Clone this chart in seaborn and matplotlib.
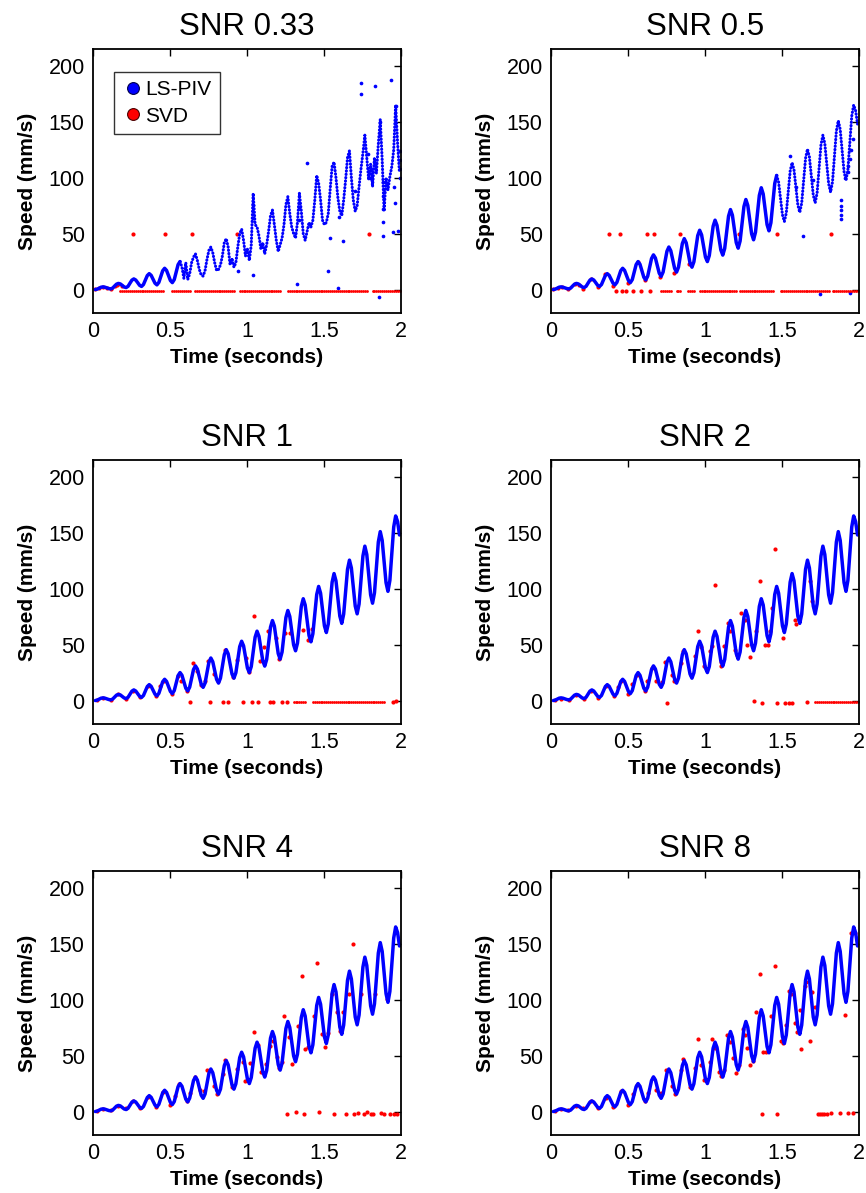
import numpy as np
import matplotlib
matplotlib.use("Agg")
import matplotlib.pyplot as plt
import seaborn as sns
from matplotlib.lines import Line2D

sns.set_theme(style="white")
plt.rcParams['font.family'] = ['Liberation Sans', 'DejaVu Sans']
plt.rcParams.update({
    "axes.edgecolor": "black", "text.color": "black", "axes.labelcolor": "black",
    "xtick.color": "black", "ytick.color": "black",
})

# ------------------------------------------
# LS-PIV track: sample times (s), 8 samples per 0.1 s wave
# ------------------------------------------
piv_t = [
    0.015, 0.0275, 0.04, 0.0525, 0.065, 0.0775, 0.09, 0.1025,
    0.115, 0.1275, 0.14, 0.1525, 0.165, 0.1775, 0.19, 0.2025,
    0.215, 0.2275, 0.24, 0.2525, 0.265, 0.2775, 0.29, 0.3025,
    0.315, 0.3275, 0.34, 0.3525, 0.365, 0.3775, 0.39, 0.4025,
    0.415, 0.4275, 0.44, 0.4525, 0.465, 0.4775, 0.49, 0.5025,
    0.515, 0.5275, 0.54, 0.5525, 0.565, 0.5775, 0.59, 0.6025,
    0.615, 0.6275, 0.64, 0.6525, 0.665, 0.6775, 0.69, 0.7025,
    0.715, 0.7275, 0.74, 0.7525, 0.765, 0.7775, 0.79, 0.8025,
    0.815, 0.8275, 0.84, 0.8525, 0.865, 0.8775, 0.89, 0.9025,
    0.915, 0.9275, 0.94, 0.9525, 0.965, 0.9775, 0.99, 1.0025,
    1.015, 1.0275, 1.04, 1.0525, 1.065, 1.0775, 1.09, 1.1025,
    1.115, 1.1275, 1.14, 1.1525, 1.165, 1.1775, 1.19, 1.2025,
    1.215, 1.2275, 1.24, 1.2525, 1.265, 1.2775, 1.29, 1.3025,
    1.315, 1.3275, 1.34, 1.3525, 1.365, 1.3775, 1.39, 1.4025,
    1.415, 1.4275, 1.44, 1.4525, 1.465, 1.4775, 1.49, 1.5025,
    1.515, 1.5275, 1.54, 1.5525, 1.565, 1.5775, 1.59, 1.6025,
    1.615, 1.6275, 1.64, 1.6525, 1.665, 1.6775, 1.69, 1.7025,
    1.715, 1.7275, 1.74, 1.7525, 1.765, 1.7775, 1.79, 1.8025,
    1.815, 1.8275, 1.84, 1.8525, 1.865, 1.8775, 1.89, 1.9025,
    1.915, 1.9275, 1.94, 1.9525, 1.965, 1.9775, 1.99,
]

# clean LS-PIV speed (mm/s)
piv_clean = [
    0.0, 0.4, 1.2, 2.1, 2.4, 2.1, 1.5, 0.9,
    0.6, 1.3, 3.1, 4.8, 5.5, 5.0, 3.7, 2.3,
    1.8, 2.9, 5.7, 8.4, 9.5, 8.5, 6.2, 3.8,
    2.8, 4.5, 8.5, 12.5, 14.2, 12.7, 9.2, 5.7,
    4.2, 6.4, 11.6, 16.8, 19.0, 17.1, 12.6, 8.1,
    6.2, 8.9, 15.6, 22.3, 25.0, 22.6, 16.8, 11.0,
    8.6, 11.9, 19.8, 27.7, 31.0, 28.2, 21.4, 14.6,
    11.8, 15.6, 24.9, 34.2, 38.0, 34.7, 26.8, 18.9,
    15.6, 20.0, 30.6, 41.1, 45.5, 41.8, 32.8, 23.7,
    20.0, 24.8, 36.5, 48.2, 53.0, 48.9, 39.0, 29.1,
    25.0, 30.4, 43.5, 56.6, 62.0, 57.4, 46.4, 35.4,
    30.8, 36.7, 51.2, 65.6, 71.5, 66.5, 54.3, 42.0,
    37.0, 43.4, 58.8, 74.2, 80.5, 75.2, 62.5, 49.8,
    44.5, 51.3, 67.8, 84.2, 91.0, 85.4, 71.8, 58.1,
    52.5, 59.7, 77.3, 94.8, 102.0, 96.0, 81.4, 66.8,
    60.8, 68.5, 87.2, 105.8, 113.5, 107.0, 91.3, 75.5,
    69.0, 77.3, 97.3, 117.3, 125.5, 118.5, 101.5, 84.5,
    77.5, 86.3, 107.8, 129.2, 138.0, 130.6, 112.5, 94.5,
    87.0, 96.3, 119.0, 141.7, 151.0, 143.2, 124.3, 105.4,
    97.6, 107.4, 131.3, 155.2, 165.0, 160.0, 148.0,
]

# SNR 0.33: noisy LS-PIV track from t = 0.565 s on
piv_noisy_033 = [
    25, 20, 10, 24,
    9, 14, 24, 29, 32, 26, 18, 13,
    12, 17, 27, 35, 38, 33, 24, 17,
    18, 22, 30, 42, 45.5, 38, 22, 28,
    20, 24, 38, 50, 54, 44, 30, 36,
    26, 40, 86, 58, 56, 48, 36, 42,
    32, 40, 52, 66, 71, 58, 44, 34,
    40, 46, 58, 76, 83, 68, 56, 50,
    46, 60, 86, 70, 50, 44, 52, 60,
    56, 62, 80, 102, 95, 80, 62, 58,
    60, 68, 90, 110, 114, 100, 82, 70,
    66, 80, 98, 118, 124, 100, 80, 70,
    75, 92, 108, 122, 138, 118, 98, 112,
    92, 118, 104, 130, 152, 116, 70, 100,
    89, 101, 110, 125, 165, 131, 104,
]
NOISY_START_033 = 44
NOISY_START_05 = 116

# stray LS-PIV vectors
piv_out_t_033 = [1.74, 1.74, 1.83, 1.935, 1.97, 1.864, 1.528, 1.593, 1.327, 1.857, 1.54, 1.62,
                 1.885, 1.95, 1.387, 1.788, 1.04, 0.944, 1.96, 1.98, 1.88, 1.88, 1.88, 1.88,
                 1.99, 1.99, 1.99, 1.99, 1.955, 1.8, 1.805, 1.04, 1.04, 1.34, 1.34, 1.6, 1.7]
piv_out_v_033 = [185, 175, 182, 187, 164, 150, 17, 1.5, 4.7, -7, 46, 43,
                 48, 51, 113, 121, 13, 17, 77, 52, 60, 72, 84, 96,
                 100, 108, 116, 124, 92, 100, 108, 64, 76, 62, 74, 65, 88]
piv_out_t_05 = [1.636, 1.745, 1.94, 1.883, 1.883, 1.883, 1.883, 1.883, 1.552, 1.94, 1.95,
                1.96, 1.925, 1.91, 1.93, 1.59, 1.7]
piv_out_v_05 = [47.8, -4, -3, 63, 67, 71, 75, 80, 119, 117, 125,
                135, 105, 100, 110, 92, 98]

# ------------------------------------------
# SVD estimates (t, speed) and the indices where SVD fell to zero
# ------------------------------------------
svd_t_033 = [0.015, 0.04, 0.065, 0.09, 0.115, 0.14, 0.154, 0.165, 0.19, 0.262, 0.468, 0.64, 0.933, 1.794]
svd_v_033 = [0.3, 1.2, 2.3, 1.4, 0.6, 3.0, 4.5, 5.2, 3.5, 49.5, 49.5, 49.5, 49.5, 49.5]
svd_fail_033 = [*range(13, 36), *range(40, 50), *range(52, 73), *range(75, 97),
                *range(100, 142), *range(144, 159)]

svd_t_05 = [0.013, 0.045, 0.07, 0.11, 0.154, 0.18, 0.208, 0.258, 0.305, 0.348,
            0.374, 0.403, 0.45, 0.5, 0.565, 0.608, 0.623, 0.669, 0.706, 0.8,
            0.84, 0.894, 1.218, 1.47, 1.816, 0.424, 0.461, 0.489, 0.532, 0.582, 0.641]
svd_v_05 = [0.9, 1.8, 2.2, 0.6, 5.4, 4.5, 0.9, 9.0, 2.4, 14.3,
            49.5, 3.3, 49.5, 6.0, 24.8, 8.4, 49.5, 49.5, 11.3, 15.2,
            49.5, 22.7, 49.5, 49.5, 49.5, -1.2, -1.2, -1.2, -1.2, -1.2, -1.2]
svd_fail_05 = [*range(56, 62), *range(64, 67), *range(70, 74), *range(76, 96),
               *range(97, 115), *range(118, 144), *range(145, 159)]

svd_t_1 = [0.024, 0.067, 0.115, 0.165, 0.214, 0.262, 0.305, 0.359, 0.409, 0.435,
           0.461, 0.511, 0.554, 0.569, 0.608, 0.647, 0.677, 0.699, 0.727, 0.749,
           0.786, 0.814, 0.857, 0.907, 0.933, 0.959, 0.994, 1.015, 1.045, 1.084,
           1.11, 1.139, 1.188, 1.21, 1.247, 1.279, 1.361, 1.398, 1.42,
           0.63, 0.76, 0.842, 0.874, 0.976, 1.03, 1.074, 1.15, 1.167, 1.225, 1.262, 1.95, 1.97]
svd_v_1 = [0.9, 2.4, 0.9, 5.4, 1.8, 8.9, 3.0, 13.4, 3.9, 12.8,
           17.9, 6.0, 21.7, 17.3, 8.9, 33.6, 26.2, 14.3, 17.9, 35.1,
           23.8, 17.3, 45.5, 20.8, 36.3, 50.6, 38.1, 25.6, 75.3, 35.1,
           47.6, 61.9, 56.0, 37.5, 60.4, 60.4, 63.4, 54.5, 64.3,
           -1.5, -1.5, -1.5, -1.5, -1.5, -1.0, -1.5, -1.0, -1.5, -1.0, -1.5, -1.5, -0.5]
svd_fail_1 = [*range(103, 110), *range(113, 151)]

svd_t_2 = [0.024, 0.067, 0.115, 0.165, 0.214, 0.262, 0.305, 0.359, 0.407, 0.435,
           0.457, 0.5, 0.526, 0.561, 0.608, 0.626, 0.656, 0.684, 0.723, 0.742,
           0.786, 0.799, 0.842, 0.857, 0.907, 0.933, 0.955, 0.972, 0.994, 1.03,
           1.048, 1.067, 1.102, 1.106, 1.123, 1.149, 1.16, 1.193, 1.208, 1.236,
           1.258, 1.275, 1.294, 1.333, 1.355, 1.387, 1.409, 1.42, 1.435, 1.452,
           1.506, 1.582, 1.593, 1.68, 1.695,
           0.755, 1.316, 1.372, 1.47, 1.52, 1.545, 1.567, 1.662]
svd_v_2 = [0.9, 1.8, 0.9, 4.8, 1.8, 8.9, 2.4, 12.8, 3.9, 11.9,
           17.9, 6.0, 14.9, 22.6, 8.9, 17.3, 29.2, 17.9, 16.7, 34.5,
           22.6, 17.3, 33.6, 44.6, 22.6, 40.0, 62.5, 47.6, 30.7, 44.0,
           49.1, 103.0, 30.7, 34.5, 48.5, 69.3, 61.9, 45.5, 40.5, 78.3,
           72.3, 49.4, 39.0, 61.9, 106.5, 50.0, 50.0, 61.9, 82.7, 135.7,
           56.0, 72.3, 68.5, 106.5, 89.3,
           -2.0, 0.0, -2.0, -2.0, -2.0, -2.0, -2.0, -1.0]
svd_fail_2 = [*range(136, 159)]

svd_t_4 = [0.024, 0.067, 0.115, 0.165, 0.214, 0.262, 0.305, 0.359, 0.407, 0.457,
           0.5, 0.532, 0.561, 0.608, 0.63, 0.662, 0.695, 0.723, 0.742, 0.786,
           0.803, 0.842, 0.857, 0.9, 0.933, 0.972, 0.987, 1.019, 1.045, 1.074,
           1.089, 1.11, 1.123, 1.149, 1.167, 1.193, 1.208, 1.225, 1.242, 1.275,
           1.29, 1.333, 1.355, 1.377, 1.398, 1.435, 1.452, 1.489, 1.506, 1.528,
           1.55, 1.582, 1.604, 1.626, 1.665, 1.686, 1.738, 1.833, 1.907,
           1.258, 1.318, 1.372, 1.47, 1.567, 1.643, 1.697, 1.719, 1.76, 1.777,
           1.805, 1.82, 1.87, 1.892, 1.929, 1.957, 1.972]
svd_v_4 = [0.6, 2.1, 1.2, 5.1, 3.0, 9.0, 3.0, 13.1, 4.2, 17.9,
           6.0, 14.0, 24.5, 9.0, 17.0, 31.0, 19.1, 18.5, 37.0, 23.0,
           16.1, 33.4, 46.0, 21.5, 37.9, 43.9, 27.5, 43.0, 70.7, 59.7,
           34.9, 34.0, 42.4, 58.8, 63.3, 48.4, 38.8, 43.9, 85.0, 66.3,
           42.4, 76.7, 121.5, 55.8, 57.3, 85.7, 132.5, 69.3, 57.3, 69.9,
           105.1, 88.7, 72.2, 88.7, 105.1, 150.0, 105.1, 105.1, 100.6,
           -1.8, 0.0, -1.8, 0.0, -1.8, -1.8, -1.8, -1.0, -1.8, 0.0,
           -1.8, -1.8, -1.0, -1.8, -1.8, -1.8, -1.8]
svd_fail_4 = []

svd_t_8 = [0.024, 0.067, 0.11, 0.165, 0.208, 0.262, 0.305, 0.359, 0.403, 0.457,
           0.5, 0.532, 0.561, 0.608, 0.63, 0.662, 0.684, 0.716, 0.749, 0.786,
           0.803, 0.842, 0.857, 0.9, 0.933, 0.955, 0.976, 0.994, 1.03, 1.045,
           1.063, 1.089, 1.106, 1.123, 1.145, 1.16, 1.182, 1.204, 1.219, 1.247,
           1.258, 1.275, 1.294, 1.312, 1.333, 1.355, 1.377, 1.398, 1.426, 1.452,
           1.492, 1.509, 1.528, 1.543, 1.561, 1.582, 1.6, 1.615, 1.62, 1.647,
           1.658, 1.68, 1.697, 1.712, 1.907, 1.946, 1.972,
           1.37, 1.47, 1.734, 1.745, 1.76, 1.775, 1.79, 1.815, 1.875, 1.925, 1.96]
svd_v_8 = [0.6, 2.1, 1.2, 5.1, 3.0, 9.0, 3.0, 12.5, 4.2, 18.0,
           6.0, 15.5, 24.0, 9.0, 17.0, 30.0, 19.0, 17.0, 37.0, 23.0,
           16.0, 37.0, 47.0, 22.0, 39.0, 65.0, 42.0, 28.0, 44.0, 65.0,
           57.0, 35.0, 32.0, 37.0, 68.0, 62.0, 48.0, 34.0, 42.0, 74.0,
           68.0, 57.0, 42.0, 45.0, 89.0, 123.0, 53.0, 53.0, 85.0, 130.0,
           63.0, 61.0, 77.0, 108.0, 105.0, 79.0, 71.0, 91.0, 56.0, 112.0,
           116.0, 63.0, 107.0, 93.0, 86.0, 160.0, 160.0,
           -2.0, -2.4, -2.0, -2.0, -2.0, -2.0, -2.0, -1.0, -1.0, -1.0, -1.5]
svd_fail_8 = []

SVD_FAIL_LEVEL = -1.2

panels = [
    ("SNR 0.33", NOISY_START_033, piv_noisy_033, piv_out_t_033, piv_out_v_033, svd_t_033, svd_v_033, svd_fail_033),
    ("SNR 0.5", NOISY_START_05, piv_clean[NOISY_START_05:], piv_out_t_05, piv_out_v_05, svd_t_05, svd_v_05, svd_fail_05),
    ("SNR 1", None, None, [], [], svd_t_1, svd_v_1, svd_fail_1),
    ("SNR 2", None, None, [], [], svd_t_2, svd_v_2, svd_fail_2),
    ("SNR 4", None, None, [], [], svd_t_4, svd_v_4, svd_fail_4),
    ("SNR 8", None, None, [], [], svd_t_8, svd_v_8, svd_fail_8),
]

# ------------------------------------------
# FIGURE
# ------------------------------------------
fig = plt.figure(figsize=(8.66, 11.93), dpi=100)
col_left = [0.1074, 0.6363]
row_bottom = [0.7376, 0.3931, 0.0486]
AX_W, AX_H = 0.3557, 0.2213

BLUE, RED = "#0000ff", "#ff0000"

for i, (title, start, noisy, out_t, out_v, s_t, s_v, fail) in enumerate(panels):
    ax = fig.add_axes([col_left[i % 2], row_bottom[i // 2], AX_W, AX_H])

    if start is None:
        sns.lineplot(x=piv_t, y=piv_clean, color=BLUE, linewidth=2.5,
                     estimator=None, sort=False, ax=ax)
    else:
        sns.lineplot(x=piv_t[:start + 1], y=piv_clean[:start + 1], color=BLUE,
                     linewidth=2.5, estimator=None, sort=False, ax=ax)
        sns.lineplot(x=piv_t[start:], y=noisy, color=BLUE, linewidth=2.2,
                     linestyle=(0, (0.1, 1.0)), dash_capstyle="round",
                     estimator=None, sort=False, ax=ax)
    if out_t:
        sns.scatterplot(x=out_t, y=out_v, color=BLUE, s=7, linewidth=0, ax=ax)

    if fail:
        sns.scatterplot(x=[piv_t[k] for k in fail], y=[SVD_FAIL_LEVEL] * len(fail),
                        color=RED, s=4, linewidth=0, ax=ax)
    sns.scatterplot(x=s_t, y=s_v, color=RED, s=9, linewidth=0, ax=ax)

    ax.set_xlim(0, 2)
    ax.set_ylim(-21, 215)
    ax.set_xticks([0, 0.5, 1, 1.5, 2])
    ax.set_xticklabels(["0", "0.5", "1", "1.5", "2"])
    ax.set_yticks([0, 50, 100, 150, 200])
    ax.tick_params(direction="in", length=5, width=1, top=True, right=True,
                   labelsize=15.5, pad=6)
    for sp in ax.spines.values():
        sp.set_linewidth(1.3)
        sp.set_color("black")
    ax.set_title(title, fontsize=22.5, pad=10)
    ax.set_xlabel("Time (seconds)", fontsize=15, fontweight="bold", labelpad=4)
    ax.set_ylabel("Speed (mm/s)", fontsize=15, fontweight="bold", labelpad=8)

    if i == 0:
        handles = [
            Line2D([], [], linestyle="none", marker="o", markersize=8.5,
                   markerfacecolor=BLUE, markeredgecolor="#00004a", markeredgewidth=0.8),
            Line2D([], [], linestyle="none", marker="o", markersize=8.5,
                   markerfacecolor=RED, markeredgecolor="#4a0000", markeredgewidth=0.8),
        ]
        leg = ax.legend(handles, ["LS-PIV", "SVD"], loc="upper left",
                        bbox_to_anchor=(0.068, 0.913), borderaxespad=0,
                        fontsize=15, frameon=True, fancybox=False,
                        handletextpad=0.1, handlelength=1.0, borderpad=0.4,
                        labelspacing=0.35)
        leg.get_frame().set_edgecolor("black")
        leg.get_frame().set_linewidth(1.0)

fig.savefig("out.png", dpi=100)
